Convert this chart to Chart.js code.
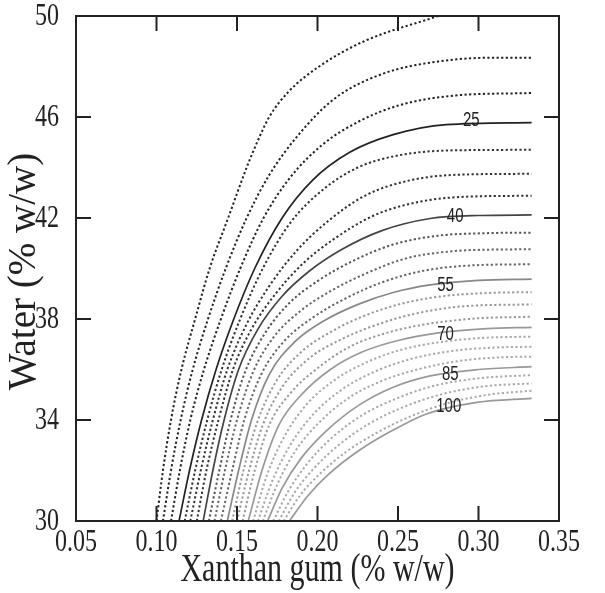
<!DOCTYPE html>
<html>
<head>
<meta charset="utf-8">
<script src="https://cdn.jsdelivr.net/npm/chart.js@4.4.0/dist/chart.umd.min.js"></script>
<style>
  html, body { margin: 0; padding: 0; background: #fff; }
</style>
</head>
<body>
<canvas id="contourChart" width="605" height="593"></canvas>
<script>
// contour lines, [xanthan gum, water]
const lineA = [[0.100,30],[0.104,32],[0.109,34],[0.1155,36],[0.124,38],[0.133,40],[0.1445,42],[0.156,44],[0.1625,45],[0.170,46],[0.182,47],[0.201,48],[0.229,49],[0.275,50]];
const lineB = [[0.104,30],[0.109,32],[0.115,34],[0.1225,36],[0.132,38],[0.143,40],[0.156,42],[0.170,43.7],[0.187,45.2],[0.210,46.7],[0.240,47.7],[0.275,48.2],[0.310,48.35],[0.333,48.35]];
const lineC = [[0.109,30],[0.1145,32],[0.121,34],[0.1295,36],[0.140,38],[0.152,40],[0.1665,42],[0.183,43.6],[0.203,44.9],[0.225,45.8],[0.250,46.45],[0.285,46.85],[0.333,46.95]];
const line25 = [[0.114,30],[0.1205,32],[0.128,34],[0.137,36],[0.148,38],[0.161,40],[0.178,42],[0.197,43.5],[0.220,44.6],[0.247,45.3],[0.280,45.7],[0.333,45.78]];
const lineD1 = [[0.1175,30],[0.124,32],[0.1315,34],[0.1405,36],[0.152,38],[0.166,40],[0.183,41.8],[0.203,43.1],[0.225,44.0],[0.252,44.5],[0.285,44.68],[0.333,44.7]];
const lineD2 = [[0.121,30],[0.1275,32],[0.135,34],[0.144,36],[0.156,37.8],[0.170,39.3],[0.187,40.7],[0.207,41.9],[0.230,42.9],[0.258,43.5],[0.290,43.72],[0.333,43.75]];
const lineD3 = [[0.125,30],[0.131,32],[0.1385,34],[0.1475,36],[0.159,37.6],[0.174,39.0],[0.191,40.2],[0.211,41.2],[0.235,42.1],[0.264,42.65],[0.295,42.85],[0.333,42.88]];
const line40 = [[0.129,30],[0.135,32],[0.142,34],[0.151,36],[0.163,37.6],[0.178,38.9],[0.195,39.9],[0.215,40.75],[0.240,41.5],[0.270,41.98],[0.300,42.1],[0.333,42.12]];
const lineE1 = [[0.1325,30],[0.139,32],[0.146,34],[0.155,35.9],[0.167,37.4],[0.182,38.6],[0.200,39.5],[0.222,40.3],[0.247,40.95],[0.275,41.3],[0.305,41.4],[0.333,41.42]];
const lineE2 = [[0.136,30],[0.1425,32],[0.150,34],[0.160,35.9],[0.173,37.3],[0.189,38.3],[0.208,39.1],[0.230,39.8],[0.255,40.4],[0.283,40.68],[0.310,40.75],[0.333,40.76]];
const lineE3 = [[0.140,30],[0.147,32],[0.1545,34],[0.165,35.8],[0.179,37.1],[0.197,38.05],[0.217,38.8],[0.240,39.45],[0.265,39.9],[0.295,40.12],[0.333,40.17]];
const line55 = [[0.144,30],[0.151,32],[0.159,34],[0.170,35.8],[0.186,37.1],[0.206,38.0],[0.226,38.6],[0.247,39.05],[0.270,39.35],[0.300,39.53],[0.333,39.58]];
const lineF1 = [[0.147,30],[0.154,32],[0.1625,33.9],[0.174,35.5],[0.190,36.7],[0.210,37.55],[0.232,38.2],[0.255,38.65],[0.280,38.92],[0.310,39.04],[0.333,39.06]];
const lineF2 = [[0.150,30],[0.1575,32],[0.166,33.8],[0.178,35.3],[0.195,36.45],[0.215,37.2],[0.238,37.8],[0.262,38.23],[0.290,38.5],[0.333,38.58]];
const lineF3 = [[0.1535,30],[0.161,32],[0.170,33.8],[0.183,35.05],[0.200,36.05],[0.220,36.9],[0.243,37.45],[0.268,37.8],[0.298,38.02],[0.333,38.09]];
const line70 = [[0.157,30],[0.1655,32],[0.176,33.8],[0.190,35.0],[0.208,36.0],[0.228,36.7],[0.250,37.15],[0.275,37.45],[0.305,37.62],[0.333,37.67]];
const lineG1 = [[0.160,30],[0.1685,31.8],[0.179,33.3],[0.193,34.6],[0.211,35.6],[0.231,36.3],[0.253,36.8],[0.278,37.1],[0.305,37.26],[0.333,37.3]];
const lineG2 = [[0.163,30],[0.172,31.6],[0.183,33.0],[0.197,34.2],[0.215,35.2],[0.235,35.9],[0.257,36.4],[0.282,36.72],[0.310,36.87],[0.333,36.9]];
const lineG3 = [[0.166,30],[0.175,31.45],[0.186,32.75],[0.201,33.9],[0.220,34.9],[0.240,35.55],[0.262,36.0],[0.287,36.33],[0.313,36.48],[0.333,36.51]];
const line85 = [[0.169,30],[0.178,31.3],[0.190,32.5],[0.206,33.6],[0.226,34.6],[0.247,35.3],[0.270,35.75],[0.300,36.0],[0.333,36.11]];
const lineH1 = [[0.1725,30],[0.182,31.2],[0.194,32.3],[0.209,33.3],[0.228,34.2],[0.249,34.85],[0.272,35.35],[0.300,35.65],[0.333,35.78]];
const lineH2 = [[0.176,30],[0.1855,31.1],[0.198,32.1],[0.213,33.0],[0.232,33.85],[0.253,34.5],[0.276,35.0],[0.303,35.33],[0.333,35.45]];
const lineH3 = [[0.179,30],[0.189,31.0],[0.202,31.9],[0.218,32.75],[0.237,33.5],[0.258,34.15],[0.280,34.65],[0.306,35.0],[0.333,35.16]];
const line100 = [[0.1826,30],[0.194,31.0],[0.206,31.8],[0.226,32.8],[0.247,33.6],[0.268,34.25],[0.299,34.7],[0.333,34.86]];

const contourLines = [lineA, lineB, lineC, line25, lineD1, lineD2, lineD3, line40,
  lineE1, lineE2, lineE3, line55, lineF1, lineF2, lineF3, line70,
  lineG1, lineG2, lineG3, line85, lineH1, lineH2, lineH3, line100];

// labelled levels and where their numbers sit
const levelLabels = ['25', '40', '55', '70', '85', '100'];
const labelX = [0.2955, 0.2855, 0.2795, 0.2795, 0.2825, 0.2815];
const labelY = [45.85, 42.05, 39.33, 37.38, 35.82, 34.55];

const xTicks = [0.05, 0.10, 0.15, 0.20, 0.25, 0.30, 0.35];
const yTicks = [30, 34, 38, 42, 46, 50];
const xTitle = 'Xanthan gum (% w/w)';
const yTitle = 'Water (% w/w)';

// styling by position in the list
const solidIdx = [3, 7, 11, 15, 19, 23];
const lineColors = ['#222', '#222', '#222', '#222', '#333', '#333', '#333', '#444',
  '#555', '#666', '#666', '#888', '#999', '#999', '#999', '#999',
  '#aaa', '#aaa', '#aaa', '#999', '#aaa', '#aaa', '#aaa', '#999'];

const serif = '"Liberation Serif", "Times New Roman", serif';
const stretch = 1.32; // the printed figure is drawn taller than wide

const datasets = contourLines.map((pts, i) => {
  const solid = solidIdx.includes(i);
  return {
    data: pts.map(p => ({ x: p[0], y: p[1] })),
    borderColor: lineColors[i],
    borderWidth: solid ? 1.7 : 2,
    borderDash: solid ? [] : [2.2, 2.4],
    pointRadius: 0,
    fill: false,
    cubicInterpolationMode: 'monotone'
  };
});

function tallText(ctx, text, px, py) {
  ctx.save();
  ctx.translate(px, py);
  ctx.scale(1, stretch);
  ctx.fillText(text, 0, 0);
  ctx.restore();
}

const frameAndLabels = {
  id: 'frameAndLabels',
  afterDatasetsDraw(chart) {
    const { ctx, chartArea: a, scales: { x, y } } = chart;
    ctx.save();
    ctx.strokeStyle = '#222';
    ctx.lineWidth = 2;
    ctx.strokeRect(a.left, a.top, a.right - a.left, a.bottom - a.top);
    ctx.beginPath();
    xTicks.slice(1, -1).forEach(v => {
      const px = x.getPixelForValue(v);
      ctx.moveTo(px, a.bottom); ctx.lineTo(px, a.bottom - 15);
      ctx.moveTo(px, a.top); ctx.lineTo(px, a.top + 15);
    });
    yTicks.slice(1, -1).forEach(v => {
      const py = y.getPixelForValue(v);
      ctx.moveTo(a.left, py); ctx.lineTo(a.left + 15, py);
      ctx.moveTo(a.right, py); ctx.lineTo(a.right - 15, py);
    });
    ctx.stroke();

    ctx.fillStyle = '#222';

    // tick labels
    ctx.font = '24px ' + serif;
    ctx.textBaseline = 'middle';
    ctx.textAlign = 'right';
    yTicks.forEach(v => tallText(ctx, String(v), a.left - 17, y.getPixelForValue(v) + 1));
    ctx.textAlign = 'center';
    xTicks.forEach(v => tallText(ctx, v.toFixed(2), x.getPixelForValue(v), a.bottom + 22));

    // axis titles
    ctx.font = '30px ' + serif;
    ctx.textBaseline = 'alphabetic';
    tallText(ctx, xTitle, (a.left + a.right) / 2, 581);
    ctx.save();
    ctx.translate(35, (a.top + a.bottom) / 2 + 3);
    ctx.rotate(-Math.PI / 2);
    ctx.font = '39px ' + serif;
    ctx.fillText(yTitle, 0, 0);
    ctx.restore();

    // contour level numbers
    ctx.font = '15px "Liberation Sans", Arial, sans-serif';
    ctx.textBaseline = 'middle';
    levelLabels.forEach((t, i) => {
      tallText(ctx, t, x.getPixelForValue(labelX[i]), y.getPixelForValue(labelY[i]));
    });
    ctx.restore();
  }
};

new Chart(document.getElementById('contourChart'), {
  type: 'line',
  data: { datasets },
  options: {
    responsive: false,
    animation: false,
    layout: { padding: { left: 0, top: 16, right: 46, bottom: 0 } },
    plugins: { legend: { display: false }, tooltip: { enabled: false } },
    scales: {
      x: {
        type: 'linear',
        min: 0.05,
        max: 0.35,
        afterFit: s => { s.height = 72; s.paddingLeft = 0; s.paddingRight = 0; },
        grid: { display: false },
        border: { display: false },
        ticks: { display: false }
      },
      y: {
        min: 30,
        max: 50,
        afterFit: s => { s.width = 76; s.paddingTop = 0; s.paddingBottom = 0; },
        grid: { display: false },
        border: { display: false },
        ticks: { display: false }
      }
    }
  },
  plugins: [frameAndLabels]
});
</script>
</body>
</html>
